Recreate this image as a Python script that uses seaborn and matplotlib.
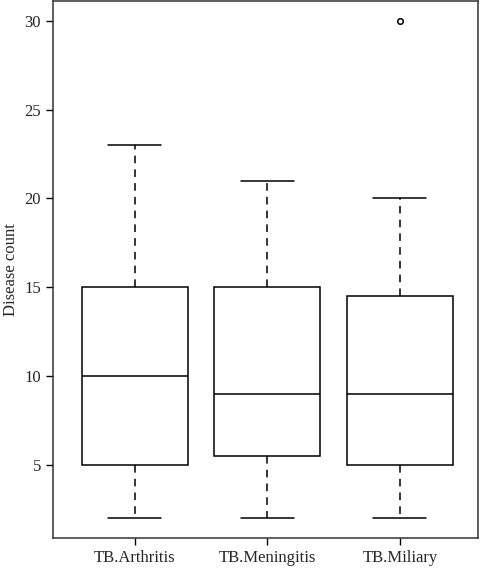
import matplotlib
matplotlib.use('Agg')
import matplotlib.pyplot as plt
import seaborn as sns
import pandas as pd

# valores (resumo de cada caixa)
arthritis = [2, 3, 5, 7, 10, 12, 15, 18, 23]
meningitis = [2, 4, 5.5, 7, 9, 12, 15, 17, 21]
miliary = [2, 3, 5, 7, 9, 12, 14.5, 20, 30]
grupos = ['TB.Arthritis', 'TB.Meningitis', 'TB.Miliary']

df = pd.DataFrame({
    'grupo': [grupos[0]] * len(arthritis) + [grupos[1]] * len(meningitis) + [grupos[2]] * len(miliary),
    'valor': arthritis + meningitis + miliary,
})

sns.set_style('white')
plt.rcParams['font.family'] = ['Liberation Serif', 'DejaVu Serif']

fig = plt.figure(figsize=(4.8, 5.71), dpi=100)
ax = fig.add_axes([0.110, 0.058, 0.886, 0.940])

sns.boxplot(data=df, x='grupo', y='valor', order=grupos, width=0.8, ax=ax,
            color='white', linecolor='black', linewidth=1.1,
            whiskerprops={'linestyle': (0, (5, 4))},
            flierprops={'marker': 'o', 'markersize': 4, 'markerfacecolor': 'white',
                        'markeredgecolor': 'black', 'markeredgewidth': 1.1})

ax.set_xlim(-0.62, 2.59)
ax.set_ylim(0.9, 31.1)
ax.set_yticks([5, 10, 15, 20, 25, 30])
ax.set_xlabel('')
ax.set_ylabel('Disease count', fontsize=12)
ax.tick_params(axis='both', direction='out', length=5, width=1, labelsize=12,
               left=True, bottom=True, color='black')
for s in ax.spines.values():
    s.set_color('#333333')
    s.set_linewidth(1.1)

plt.savefig('out.png', dpi=100)
